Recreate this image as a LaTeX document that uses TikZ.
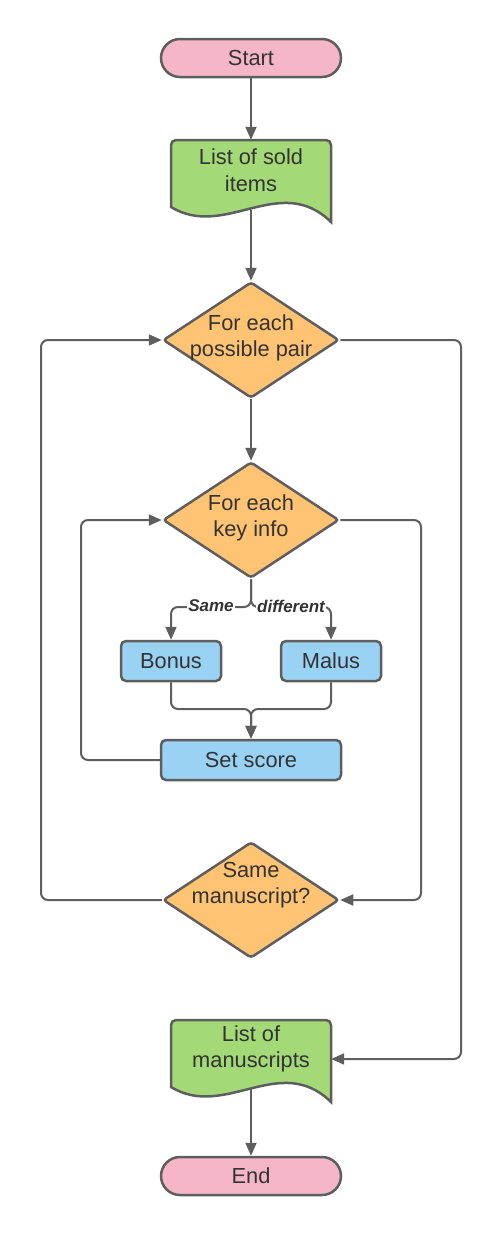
\documentclass[tikz,border=0pt]{standalone}
\usepackage{fontspec}
\setmainfont{Liberation Sans}
\usetikzlibrary{shapes.geometric,arrows.meta,backgrounds}
\definecolor{lc}{HTML}{5E5E5E}
\definecolor{tc}{HTML}{333333}
\definecolor{pinkc}{HTML}{F4B6C8}
\definecolor{greenc}{HTML}{A3D977}
\definecolor{orangec}{HTML}{FFC374}
\definecolor{bluec}{HTML}{99D2F2}
\tikzset{
 base/.style={draw=lc, line width=2.5pt, text=tc, font=\fontsize{21.8}{26.5}\selectfont, align=center},
 term/.style={base, fill=pinkc, rectangle, rounded corners=19pt, minimum width=180pt, minimum height=38pt, inner sep=0pt},
 dia/.style={base, fill=orangec, diamond, minimum width=176pt, minimum height=116pt, inner sep=0pt, rounded corners=3pt},
 proc/.style={base, fill=bluec, rectangle, rounded corners=5pt, minimum height=40pt, inner sep=0pt},
 docpath/.style={draw=lc, line width=2.5pt, fill=greenc},
 docbox/.style={rectangle, minimum width=160pt, inner sep=0pt},
 txt/.style={text=tc, font=\fontsize{21.8}{26.5}\selectfont, align=center, inner sep=0pt},
 conn/.style={draw=lc, line width=2pt, rounded corners=7pt},
 arr/.style={conn, -{Triangle[length=13pt,width=11pt]}},
 lbl/.style={fill=white, text=tc, font=\fontsize{17}{18}\selectfont\bfseries\itshape, inner sep=1.5pt}
}
\begin{document}
\begin{tikzpicture}[x=1pt,y=-1pt]
\useasboundingbox (0,0) rectangle (502,1240);

% document shapes
\path[docpath] (171,207) [rounded corners=5pt]-- (171,140) -- (331,140) [sharp corners]-- (331,222)
  .. controls (280,172) and (225,240) .. (171,207) -- cycle;
\path[docpath] (171,1087) [rounded corners=5pt]-- (171,1020) -- (331,1020) [sharp corners]-- (331,1102)
  .. controls (280,1052) and (225,1120) .. (171,1087) -- cycle;

% nodes
\node[term] (start) at (251,58) {Start};
\node[docbox, minimum height=70pt] (doc1) at (251,175) {};
\node[txt] (doc1t) at (251,170) {List of sold\\items};
\node[dia] (d1) at (251,340) {};
\node[txt] (d1t) at (251,338) {For each\\possible pair};
\node[dia] (d2) at (251,520) {};
\node[txt] (d2t) at (251,518) {For each\\key info};
\node[proc, minimum width=100pt] (bonus) at (171,661) {Bonus};
\node[proc, minimum width=100pt] (malus) at (331,661) {Malus};
\node[proc, minimum width=180pt] (set) at (251,760) {Set score};
\node[dia] (d3) at (251,900) {};
\node[txt] (d3t) at (251,885) {Same\\manuscript?};
\node[docbox, minimum height=68pt] (doc2) at (251,1054) {};
\node[txt] (doc2t) at (251,1049) {List of\\manuscripts};
\node[term] (end) at (251,1176) {End};

\coordinate (split) at (251,607);
\coordinate (merge) at (251,709);
\coordinate (rr) at (461,1059);
\coordinate (ll) at (41,340);
\coordinate (ir) at (421,900);
\coordinate (il) at (81,520);

\begin{scope}[on background layer]
\draw[arr] (start.south) -- (doc1.north);
\draw[arr] (doc1.south) -- (d1.north);
\draw[arr] (d1.south) -- (d2.north);
\draw[arr] (d2.south) |- (split -| bonus.north) -- (bonus.north);
\draw[arr] (d2.south) |- (split -| malus.north) -- (malus.north);
\draw[arr] (bonus.south) |- (merge) -- (set.north);
\draw[arr] (malus.south) |- (merge) -- (set.north);
\draw[arr] (set.west) -| (il) -- (d2.west);
\draw[arr] (d2.east) -| (ir) -- (d3.east);
\draw[arr] (d3.west) -| (ll) -- (d1.west);
\draw[arr] (d1.east) -| (rr) -- ([yshift=-5pt]doc2.east);
\draw[arr] (doc2.south) -- (end.north);
\end{scope}
\node[lbl] (lsame) at (211,606) {Same};
\node[lbl] (ldiff) at (291,606) {different};
\end{tikzpicture}
\end{document}
